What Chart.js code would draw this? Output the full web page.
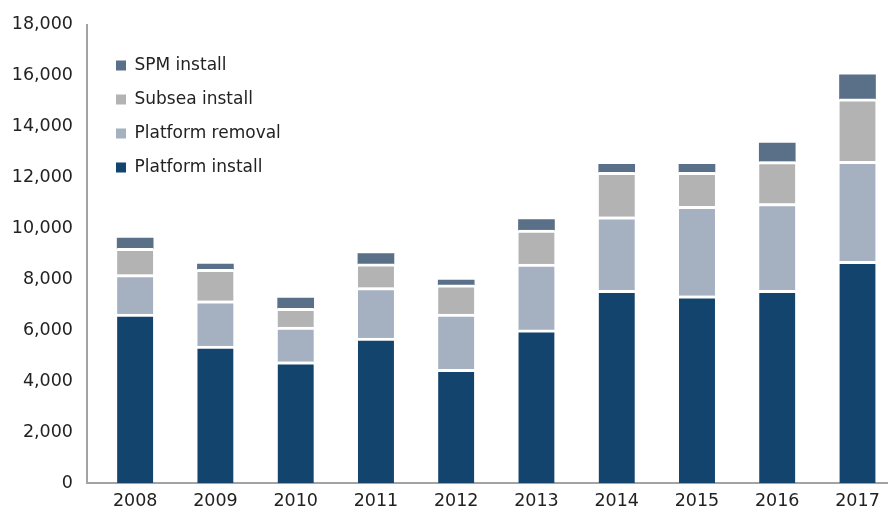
<!DOCTYPE html>
<html>
<head>
<meta charset="utf-8">
<script src="https://cdn.jsdelivr.net/npm/chart.js@4"></script>
<style>
  html, body { margin: 0; padding: 0; background: #fff; }
  #wrap { width: 888px; height: 510px; }
</style>
</head>
<body>
<div id="wrap"><canvas id="chart"></canvas></div>
<script>
// years on the x axis
const years = [2008, 2009, 2010, 2011, 2012, 2013, 2014, 2015, 2016, 2017];

// series values
const platformInstall = [6630, 5380, 4760, 5690, 4460, 6010, 7560, 7350, 7560, 8700];
const platformRemoval = [1550, 1770, 1360, 1980, 2170, 2580, 2890, 3510, 3410, 3930];
const subseaInstall   = [1030, 1240, 740, 930, 1150, 1340, 1750, 1340, 1650, 2450];
const spmInstall      = [410, 200, 400, 410, 190, 410, 310, 310, 720, 940];

const yTicks = [0, 2000, 4000, 6000, 8000, 10000, 12000, 14000, 16000, 18000];

const textColor = '#222';
const axisColor = '#a3a3a3';
const fontFamily = '"DejaVu Sans", sans-serif';

function series(label, data, color, gap) {
    return {
        label: label,
        data: data,
        backgroundColor: color,
        borderColor: '#ffffff',
        borderWidth: gap ? { top: 3, left: 0, right: 0, bottom: 0 } : 0,
        borderSkipped: 'start',
        barThickness: 36
    };
}

// nudge the legend into the top-left of the plot
const legendSpot = {
    id: 'legendSpot',
    afterLayout(chart) {
        const lg = chart.legend;
        lg.left = 99;
        lg.top = 40;
    }
};

new Chart(document.getElementById('chart').getContext('2d'), {
    type: 'bar',
    data: {
        labels: years,
        datasets: [
            series('Platform install', platformInstall, '#12446d', true),
            series('Platform removal', platformRemoval, '#a5b1c1', true),
            series('Subsea install', subseaInstall, '#b3b3b3', true),
            series('SPM install', spmInstall, '#5a6f88', false)
        ]
    },
    plugins: [legendSpot],
    options: {
        responsive: true,
        maintainAspectRatio: false,
        animation: false,
        layout: { padding: { top: 18, left: 0, right: 0, bottom: 0 } },
        plugins: {
            tooltip: { enabled: false },
            legend: {
                position: 'chartArea',
                align: 'start',
                reverse: true,
                labels: {
                    boxWidth: 10,
                    boxHeight: 10,
                    padding: 17,
                    color: textColor,
                    font: { family: fontFamily, size: 17 },
                    generateLabels(chart) {
                        const items = Chart.defaults.plugins.legend.labels.generateLabels(chart);
                        return items.map(it => Object.assign(it, { lineWidth: 0 }));
                    }
                }
            }
        },
        scales: {
            x: {
                type: 'linear',
                stacked: true,
                offset: false,
                min: 2007.4,
                max: 2017.38,
                grid: { display: false, drawTicks: false, offset: false },
                border: { display: true, color: axisColor, width: 2 },
                afterFit(scale) { scale.height = 27; },
                ticks: {
                    stepSize: 1,
                    includeBounds: false,
                    autoSkip: false,
                    maxRotation: 0,
                    padding: 8,
                    color: textColor,
                    font: { family: fontFamily, size: 17.5 },
                    callback: v => String(v)
                }
            },
            y: {
                stacked: true,
                min: 0,
                max: 18000,
                grid: { display: false, drawTicks: false },
                border: { display: true, color: axisColor, width: 2 },
                afterFit(scale) { scale.width = 87; },
                afterBuildTicks(scale) { scale.ticks = yTicks.map(v => ({ value: v })); },
                ticks: {
                    padding: 14,
                    color: textColor,
                    font: { family: fontFamily, size: 17.5 },
                    callback: v => v.toLocaleString('en-US')
                }
            }
        }
    }
});
</script>
</body>
</html>
